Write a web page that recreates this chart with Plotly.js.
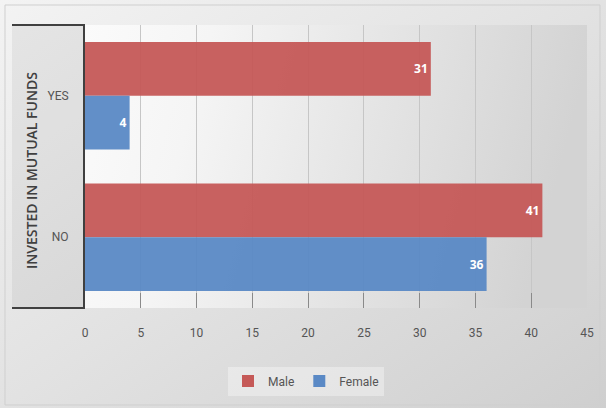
<!DOCTYPE html>
<html>
<head>
<meta charset="utf-8">
<script src="https://cdn.plot.ly/plotly-3.0.1.min.js"></script>
<style>
  html, body { margin: 0; padding: 0; background: #e4e4e4; }
  #chart { width: 606px; height: 408px; }
</style>
</head>
<body>
<div id="chart"></div>
<script>
// Survey answers: invested in mutual funds, by gender
const categories = ['YES', 'NO'];
const maleCounts = [31, 41];
const femaleCounts = [4, 36];
const seriesNames = ['Male', 'Female'];
const xTicks = [0, 5, 10, 15, 20, 25, 30, 35, 40, 45];

const W = 606, H = 408;
const M = { l: 85, r: 19, t: 25, b: 100 };
const pw = W - M.l - M.r, ph = H - M.t - M.b;

// paper-coordinate helpers (pixel -> fraction of plot area)
const px = x => (x - M.l) / pw;
const py = y => (H - M.b - y) / ph;

function gradientSvg(stops, x2, y2) {
  const s = stops.map(([o, c]) => `<stop offset="${o}" stop-color="${c}"/>`).join('');
  const svg = `<svg xmlns="http://www.w3.org/2000/svg" width="100" height="100" preserveAspectRatio="none">` +
    `<defs><linearGradient id="g" x1="0" y1="0" x2="${x2}" y2="${y2}">${s}</linearGradient></defs>` +
    `<rect width="100" height="100" fill="url(#g)"/></svg>`;
  return 'data:image/svg+xml;charset=utf-8,' + encodeURIComponent(svg);
}

const labelFont = { family: 'Open Sans, DejaVu Sans, sans-serif', size: 12, color: '#ffffff', weight: 'bold' };
const narrow = 'Liberation Sans Narrow, Arial Narrow, Roboto, sans-serif';

const traces = [
  {
    type: 'bar', orientation: 'h', name: seriesNames[0],
    y: categories, x: maleCounts,
    text: maleCounts.map(String), textposition: 'inside', insidetextanchor: 'end',
    textfont: labelFont, marker: { color: '#C55957', opacity: 0.95 },
    hoverinfo: 'x+name'
  },
  {
    type: 'bar', orientation: 'h', name: seriesNames[1],
    y: categories, x: femaleCounts,
    text: femaleCounts.map(String), textposition: 'inside', insidetextanchor: 'end',
    textfont: labelFont, marker: { color: '#5A89C5', opacity: 0.95 },
    hoverinfo: 'x+name'
  }
];

const lineCol = '#404040';

const layout = {
  width: W, height: H,
  margin: M,
  paper_bgcolor: '#e2e2e2',
  plot_bgcolor: 'rgba(0,0,0,0)',
  barmode: 'group',
  bargap: 0.24,
  bargroupgap: 0,
  showlegend: true,
  legend: {
    orientation: 'h', x: px(306), xanchor: 'center', y: py(381), yanchor: 'middle',
    bgcolor: 'rgba(255,255,255,0.35)',
    font: { family: narrow, size: 12, color: '#555555' },
    itemwidth: 30, traceorder: 'normal'
  },
  xaxis: {
    range: [0, 45], tickvals: xTicks, ticktext: xTicks.map(String),
    showgrid: true, gridcolor: '#c6c6c6', gridwidth: 1,
    zeroline: false, showline: false,
    ticks: 'inside', ticklen: 15, tickcolor: '#8a8a8a', tickwidth: 1,
    ticklabelstandoff: 16,
    tickfont: { family: narrow, size: 12, color: '#555555' },
    fixedrange: true
  },
  yaxis: {
    type: 'category', autorange: 'reversed',
    showgrid: false, zeroline: false,
    showline: true, linecolor: lineCol, linewidth: 2,
    ticks: '', ticklabelstandoff: 12,
    tickfont: { family: narrow, size: 12, color: '#555555' },
    fixedrange: true
  },
  images: [
    {
      source: gradientSvg([[0, '#f3f3f3'], [0.5, '#e2e2e2'], [1, '#cfcfcf']], 1, 1),
      xref: 'paper', yref: 'paper', x: px(0), y: py(0), sizex: W / pw, sizey: H / ph,
      sizing: 'stretch', layer: 'below', xanchor: 'left', yanchor: 'top'
    },
    {
      source: gradientSvg([[0, '#fbfbfb'], [0.25, '#f5f5f5'], [1, '#d3d3d3']], 1, 0.15),
      xref: 'paper', yref: 'paper', x: 0, y: 1, sizex: 1, sizey: 1,
      sizing: 'stretch', layer: 'below', xanchor: 'left', yanchor: 'top'
    }
  ],
  shapes: [
    // outer chart border
    { type: 'rect', xref: 'paper', yref: 'paper', x0: px(5), x1: px(600), y0: py(5), y1: py(405),
      line: { color: '#cfcfcf', width: 1 }, fillcolor: 'rgba(0,0,0,0)', layer: 'below' },
    // category label box on the left
    { type: 'rect', xref: 'paper', yref: 'paper', x0: px(12), x1: 0, y0: 0, y1: 1,
      line: { width: 0 }, fillcolor: 'rgba(120,120,120,0.10)', layer: 'below' },
    { type: 'line', xref: 'paper', yref: 'paper', x0: px(12), x1: 0, y0: 1, y1: 1,
      line: { color: lineCol, width: 2 } },
    { type: 'line', xref: 'paper', yref: 'paper', x0: px(12), x1: 0, y0: 0, y1: 0,
      line: { color: lineCol, width: 2 } }
  ],
  annotations: [
    {
      text: 'INVESTED IN MUTUAL FUNDS', textangle: -90, showarrow: false,
      xref: 'paper', yref: 'paper', x: px(31), y: py(171), xanchor: 'center', yanchor: 'middle',
      font: { family: 'Open Sans, DejaVu Sans, sans-serif', size: 14, color: '#404040', weight: 600 }
    }
  ]
};

Plotly.newPlot('chart', traces, layout, { displayModeBar: false, staticPlot: true });
</script>
</body>
</html>
